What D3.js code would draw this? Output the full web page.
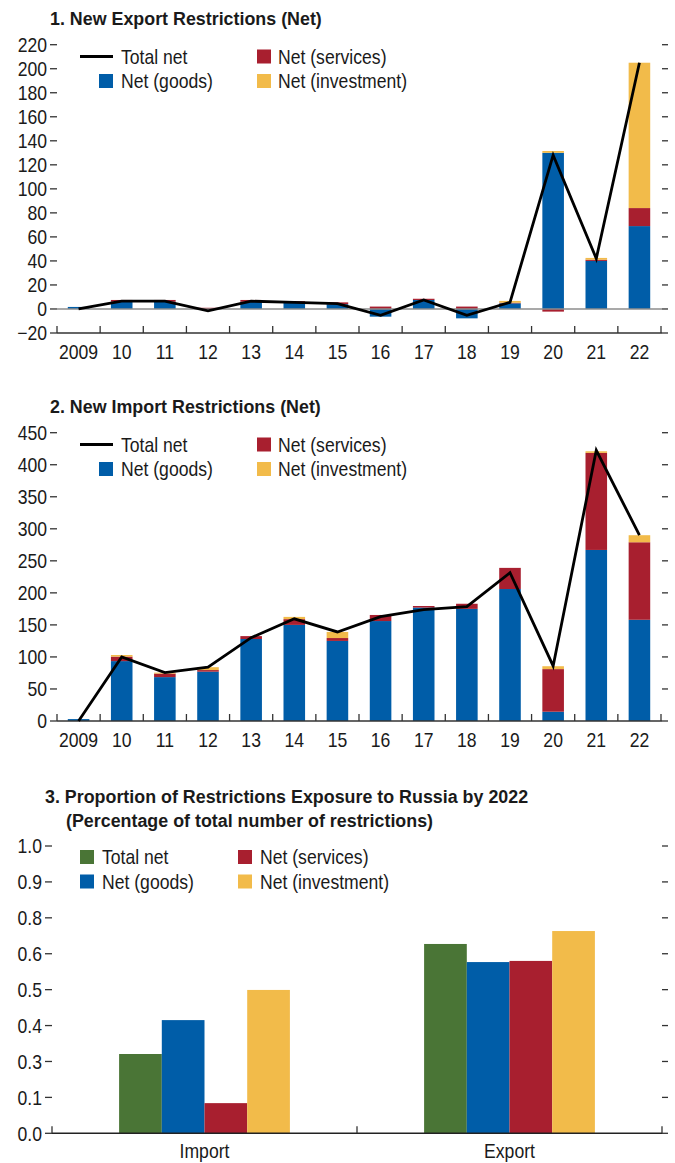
<!DOCTYPE html>
<html>
<head>
<meta charset="utf-8">
<script src="https://cdn.jsdelivr.net/npm/d3@7"></script>
<style>
	body { margin: 0; background: #fff; }
	text { font-family: 'Liberation Sans', Arial, sans-serif; fill: #1a1a1a; }
	.title { font-weight: bold; font-size: 18.8px; }
	.tick-label, .legend-label, .x-label { font-size: 20px; }
</style>
</head>
<body>
<div id="chart"></div>
<script>
// ********** DATA **********
const years = ['2009', '10', '11', '12', '13', '14', '15', '16', '17', '18', '19', '20', '21', '22'];

// Panel 1 - export restrictions
const exportGoods = [1.7, 6, 6, 0, 6, 5.5, 4, -6.4, 7.5, -7.8, 4.7, 130, 40, 69];
const exportServices = [0, 1.5, 1.5, 1, 1.5, 1, 1.5, 2, 1, 2, 0.5, -2.2, 1, 15];
const exportInvestment = [0, 0, 0, 0, 0, 0, 0, 0, 0, 0, 1.5, 1.5, 1.5, 121];
const exportTotal = [0, 6.5, 6.5, -1.5, 6.5, 5.5, 4.5, -5.3, 7.5, -5.3, 5.5, 128, 42, 205];
const exportTicks = [-20, 0, 20, 40, 60, 80, 100, 120, 140, 160, 180, 200, 220];

// Panel 2 - import restrictions
const importGoods = [3, 93.5, 68.5, 77, 128, 150, 125, 156, 177, 175, 206, 14.5, 267, 158];
const importServices = [0, 7, 5.5, 2.5, 4.5, 9, 4.5, 9.5, 2.5, 8, 33, 66.5, 151.5, 121];
const importInvestment = [0, 2.5, 1.5, 4.5, 0, 3.5, 9.5, 0, 0, 0, 0, 4.5, 2.5, 11];
const importTotal = [0, 100, 75.5, 84, 130, 159.5, 139, 163, 174, 178.5, 231.5, 86, 422.5, 290];
const importTicks = [0, 50, 100, 150, 200, 250, 300, 350, 400, 450];

// Panel 3 - exposure to Russia
const groups = ['Import', 'Export'];
const seriesNames = ['Total net', 'Net (goods)', 'Net (services)', 'Net (investment)'];
const importShare = [0.276, 0.394, 0.105, 0.499];
const exportShare = [0.659, 0.596, 0.600, 0.704];
const shareTickValues = [0, 0.125, 0.25, 0.375, 0.5, 0.625, 0.75, 0.875, 1];
const shareTickLabels = ['0.0', '0.1', '0.3', '0.4', '0.5', '0.6', '0.8', '0.9', '1.0'];

// Set colour function
const colors = (series) => {
	const colorRange = {
		'Total net': '#4a7536',
		'Net (goods)': '#005da8',
		'Net (services)': '#a81f2f',
		'Net (investment)': '#f2bb4a'
	};
	return colorRange[series];
};

const width = 675;
const height = 1163;
const plotLeft = 57;
const plotRight = 662;

// Horizontal squeeze per text class (no condensed font installed)
const squeeze = { 'title': 0.95, 'tick-label': 0.88, 'legend-label': 0.88, 'x-label': 0.88 };

const svg = d3.select('#chart')
	.append('svg')
	.attr('width', width)
	.attr('height', height);

// Function to add squeezed text
const addText = (g, x, y, str, cls, anchor = 'start') => g.append('text')
	.attr('class', cls)
	.attr('transform', `translate(${x},${y}) scale(${squeeze[cls]},1)`)
	.attr('text-anchor', anchor)
	.text(str);

// Function to draw the left and right tick dashes with labels
const renderYTicks = (g, yScale, ticks, labels, x0, x1) => {
	ticks.forEach((t, i) => {
		const y = yScale(t);
		g.append('line').attr('x1', x0 - 7).attr('x2', x0).attr('y1', y).attr('y2', y)
			.attr('stroke', '#333').attr('stroke-width', 1.3);
		g.append('line').attr('x1', x1).attr('x2', x1 + 6).attr('y1', y).attr('y2', y)
			.attr('stroke', '#333').attr('stroke-width', 1.3);
		addText(g, x0 - 10, y + 7.2, labels[i], 'tick-label', 'end');
	});
};

// Function to render the legend (line or square for total)
const renderLegend = (g, top, totalAsLine) => {
	const items = [
		{ name: 'Total net', col: 0, row: 0 },
		{ name: 'Net (services)', col: 1, row: 0 },
		{ name: 'Net (goods)', col: 0, row: 1 },
		{ name: 'Net (investment)', col: 1, row: 1 }
	];
	items.forEach(d => {
		const y = top + d.row * 24.5;
		if (d.name === 'Total net' && totalAsLine) {
			g.append('line').attr('x1', 80).attr('x2', 113).attr('y1', y).attr('y2', y)
				.attr('stroke', '#000').attr('stroke-width', 2.8);
		} else {
			const sx = totalAsLine ? (d.col ? 257 : 99) : (d.col ? 238 : 80);
			g.append('rect').attr('x', sx).attr('y', y - 7).attr('width', 14).attr('height', 14)
				.attr('fill', colors(d.name));
		}
		const tx = totalAsLine ? (d.col ? 278 : 121) : (d.col ? 260 : 102);
		addText(g, tx, y + 7, d.name, 'legend-label');
	});
};

// Function to render a stacked bar + line panel
const renderStackPanel = (cfg) => {
	const g = svg.append('g').attr('class', 'panel');

	addText(g, 50, cfg.titleY, cfg.title, 'title');

	const xBand = d3.scaleBand().domain(years).range([plotLeft, 661]).paddingInner(0.5).paddingOuter(0.25);
	const xStep = d3.scaleBand().domain(years).range([plotLeft, 661]);
	const yScale = d3.scaleLinear().domain(cfg.yDomain).range(cfg.yRange);

	renderYTicks(g, yScale, cfg.ticks, cfg.ticks.map(d => d3.format('d')(d)), plotLeft, plotRight);
	renderLegend(g, cfg.legendY, true);

	const rows = years.map((yr, i) => ({
		year: yr,
		'Net (goods)': cfg.goods[i],
		'Net (services)': cfg.services[i],
		'Net (investment)': cfg.investment[i]
	}));
	const stack = d3.stack()
		.keys(['Net (goods)', 'Net (services)', 'Net (investment)'])
		.offset(d3.stackOffsetDiverging);

	g.selectAll('g.layer')
		.data(stack(rows))
		.join('g')
		.attr('class', 'layer')
		.attr('fill', d => colors(d.key))
		.selectAll('rect')
		.data(d => d)
		.join('rect')
		.attr('x', d => xBand(d.data.year))
		.attr('width', xBand.bandwidth())
		.attr('y', d => yScale(Math.max(d[0], d[1])))
		.attr('height', d => Math.abs(yScale(d[0]) - yScale(d[1])));

	// Zero line (grey) when axis sits below zero
	if (cfg.yDomain[0] < 0) {
		g.append('line').attr('x1', plotLeft).attr('x2', plotRight)
			.attr('y1', yScale(0)).attr('y2', yScale(0))
			.attr('stroke', '#8c8c8c').attr('stroke-width', 1.5);
	}

	// X axis
	const axisY = yScale(cfg.yDomain[0]);
	g.append('line').attr('x1', plotLeft).attr('x2', plotRight)
		.attr('y1', axisY).attr('y2', axisY)
		.attr('stroke', '#333').attr('stroke-width', 1.5);
	years.concat(['end']).forEach((yr, i) => {
		const x = i < years.length ? xStep(yr) : 661;
		g.append('line').attr('x1', x).attr('x2', x).attr('y1', axisY).attr('y2', axisY - 7)
			.attr('stroke', '#333').attr('stroke-width', 1.3);
	});
	years.forEach(yr => addText(g, xBand(yr) + xBand.bandwidth() / 2, axisY + 26, yr, 'x-label', 'middle'));

	// Total net line
	const line = d3.line()
		.x((d, i) => xBand(years[i]) + xBand.bandwidth() / 2)
		.y(d => yScale(d));
	g.append('path')
		.datum(cfg.total)
		.attr('d', line)
		.attr('fill', 'none')
		.attr('stroke', '#000')
		.attr('stroke-width', 2.8)
		.attr('stroke-linejoin', 'miter');
};

// Function to render the grouped bar panel
const renderGroupedPanel = () => {
	const g = svg.append('g').attr('class', 'panel');
	addText(g, 45, 803, '3. Proportion of Restrictions Exposure to Russia by 2022', 'title');
	addText(g, 66, 827, '(Percentage of total number of restrictions)', 'title');

	const x0 = d3.scaleBand().domain(groups).range([52, 662]).paddingInner(0.44).paddingOuter(0.22);
	const xStep = d3.scaleBand().domain(groups).range([52, 662]);
	const x1 = d3.scaleBand().domain(seriesNames).range([0, x0.bandwidth()]);
	const yScale = d3.scaleLinear().domain([0, 1]).range([1133.3, 846]);

	renderYTicks(g, yScale, shareTickValues, shareTickLabels, 52, plotRight);
	renderLegend(g, 857, false);

	const values = { Import: importShare, Export: exportShare };
	g.selectAll('g.group')
		.data(groups)
		.join('g')
		.attr('class', 'group')
		.attr('transform', d => `translate(${x0(d)}, 0)`)
		.selectAll('rect')
		.data(d => seriesNames.map((s, i) => ({ series: s, value: values[d][i] })))
		.join('rect')
		.attr('x', d => x1(d.series))
		.attr('width', x1.bandwidth())
		.attr('y', d => yScale(d.value))
		.attr('height', d => yScale(0) - yScale(d.value))
		.attr('fill', d => colors(d.series));

	const axisY = yScale(0);
	g.append('line').attr('x1', 52).attr('x2', plotRight).attr('y1', axisY).attr('y2', axisY)
		.attr('stroke', '#222').attr('stroke-width', 1.5);
	[xStep('Import'), xStep('Export'), 662].forEach(x => {
		g.append('line').attr('x1', x).attr('x2', x).attr('y1', axisY).attr('y2', axisY - 7)
			.attr('stroke', '#333').attr('stroke-width', 1.3);
	});
	groups.forEach(gr => addText(g, x0(gr) + x0.bandwidth() / 2, 1158, gr, 'x-label', 'middle'));
};

renderStackPanel({
	title: '1. New Export Restrictions (Net)',
	titleY: 25,
	yDomain: [-20, 220],
	yRange: [333, 44.7],
	ticks: exportTicks,
	legendY: 56.5,
	goods: exportGoods,
	services: exportServices,
	investment: exportInvestment,
	total: exportTotal
});

renderStackPanel({
	title: '2. New Import Restrictions (Net)',
	titleY: 413,
	yDomain: [0, 450],
	yRange: [721, 432.7],
	ticks: importTicks,
	legendY: 444.5,
	goods: importGoods,
	services: importServices,
	investment: importInvestment,
	total: importTotal
});

renderGroupedPanel();
</script>
</body>
</html>
